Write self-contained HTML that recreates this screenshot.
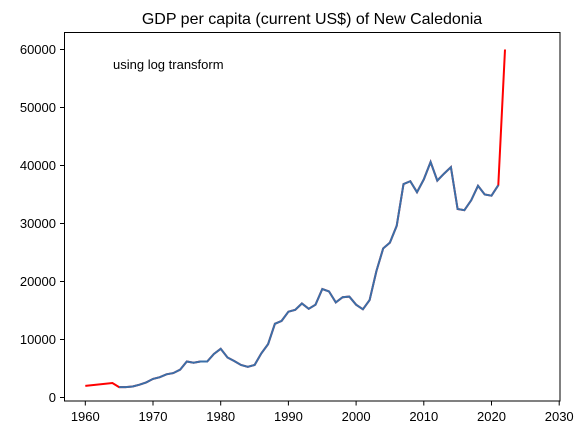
<!DOCTYPE html>
<html><head><meta charset="utf-8"><style>
body{margin:0;background:#fff}
svg{display:block;font-family:"Liberation Sans","DejaVu Sans",sans-serif}
</style></head><body>
<svg id="chart" width="587" height="435" viewBox="0 0 587 435">
<text x="312" y="24" font-size="16" text-anchor="middle">GDP per capita (current US$) of New Caledonia</text>
<text x="113" y="69" font-size="13">using log transform</text>
<g id="xt"></g>
<g id="yt"></g>
<polyline id="red" fill="none" stroke="#ff0000" stroke-width="2"/>
<polyline id="blue" fill="none" stroke="#3a6fa8" stroke-width="2"/>
<rect x="64.5" y="32.5" width="495.5" height="368.5" fill="none" stroke="#000" stroke-width="1"/>
</svg>
<script>
const redYears=[1960,1964,1965];
const redVals=[2000,2500,1800];
const years=[1965,1966,1967,1968,1969,1970,1971,1972,1973,1974,1975,1976,1977,1978,1979,1980,1981,1982,1983,1984,1985,1986,1987,1988,1989,1990,1991,1992,1993,1994,1995,1996,1997,1998,1999,2000,2001,2002,2003,2004,2005,2006,2007,2008,2009,2010,2011,2012,2013,2014,2015,2016,2017,2018,2019,2020,2021];
const vals=[1800,1800,1900,2200,2600,3200,3500,4000,4200,4800,6200,6000,6200,6200,7500,8400,6900,6300,5600,5300,5600,7600,9200,12700,13200,14800,15100,16200,15300,16000,18700,18300,16400,17300,17400,16000,15200,16800,21800,25700,26700,29600,36800,37300,35400,37600,40600,37400,38600,39700,32500,32300,34000,36500,35000,34800,36600];
const tailYears=[2021,2022];
const tailVals=[36600,60000];
const xTicks=[1960,1970,1980,1990,2000,2010,2020,2030];
const yTicks=[0,10000,20000,30000,40000,50000,60000];
const X=y=>85.3+(y-1960)*6.77;
const Y=v=>397.5-v*0.0058;
const NS="http://www.w3.org/2000/svg";
const pts=(a,b)=>a.map((y,i)=>X(y).toFixed(1)+","+Y(b[i]).toFixed(1)).join(" ");
const ry=redYears.concat(years.slice(1),tailYears.slice(1)), rv=redVals.concat(vals.slice(1),tailVals.slice(1));
document.getElementById('red').setAttribute('points',pts(ry,rv));
document.getElementById('blue').setAttribute('points',pts(years,vals));
const xt=document.getElementById('xt'), yt=document.getElementById('yt');
xTicks.forEach(t=>{
 const l=document.createElementNS(NS,'line');
 l.setAttribute('x1',X(t));l.setAttribute('x2',X(t));l.setAttribute('y1',401);l.setAttribute('y2',405.5);l.setAttribute('stroke','#000');
 
 
 xt.appendChild(l);
 const s=document.createElementNS(NS,'text');
 s.setAttribute('x',X(t));s.setAttribute('y',421);s.setAttribute('font-size','13');s.setAttribute('text-anchor','middle');s.textContent=t;
 
 
 xt.appendChild(s);
});
yTicks.forEach(t=>{
 const l=document.createElementNS(NS,'line');
 l.setAttribute('x1',60);l.setAttribute('x2',64.5);l.setAttribute('y1',Y(t));l.setAttribute('y2',Y(t));l.setAttribute('stroke','#000');
 
 
 yt.appendChild(l);
 const s=document.createElementNS(NS,'text');
 s.setAttribute('x',56);s.setAttribute('y',Y(t)+4.5);s.setAttribute('font-size','13');s.setAttribute('text-anchor','end');s.textContent=t;
 
 
 yt.appendChild(s);
});
</script>
</body></html>
